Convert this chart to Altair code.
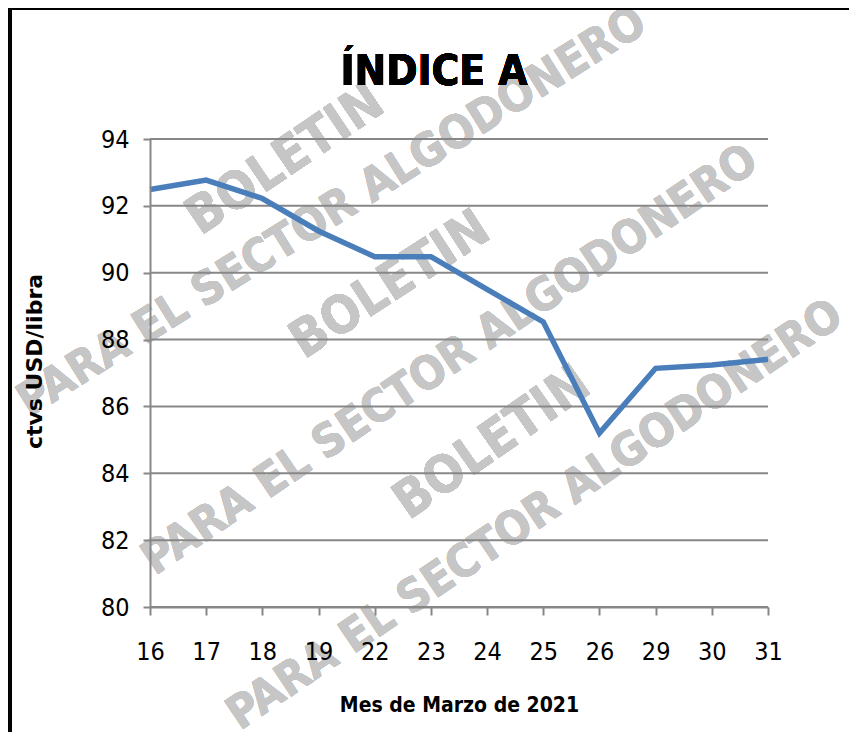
import altair as alt
import pandas as pd

# ---- data ----
dias = ["16", "17", "18", "19", "22", "23", "24", "25", "26", "29", "30", "31"]
indice_a = [92.49, 92.77, 92.22, 91.25, 90.48, 90.48, 89.5, 88.53, 85.2, 87.14, 87.24, 87.41]
y_ticks = [80, 82, 84, 86, 88, 90, 92, 94]

titulo = "ÍNDICE A"
titulo_x = "Mes de Marzo de 2021"
titulo_y = "ctvs USD/libra"
marca_1 = "BOLETIN"
marca_2 = "PARA EL SECTOR ALGODONERO"

df = pd.DataFrame({"dia": dias, "valor": indice_a})
grid_df = pd.DataFrame({"g": y_ticks})

W, H = 618, 468
NARROW = "DejaVu Sans Condensed"

xenc = alt.X("dia:O", sort=dias, scale=alt.Scale(type="point", padding=0),
             axis=alt.Axis(title=titulo_x, labelAngle=0, labelFont=NARROW, labelFontSize=25,
                           labelColor="black", labelPadding=24, tickSize=8, tickColor="#878787",
                           tickWidth=2, domainColor="#878787", domainWidth=2, grid=False,
                           titleFont=NARROW, titleFontSize=21, titleFontWeight="bold",
                           titleColor="black", titleBaseline="alphabetic",
                           titleX=309, titleY=104, zindex=1))
yscale = alt.Scale(domain=[80, 94], nice=False, zero=False)
yenc = alt.Y("valor:Q", scale=yscale,
             axis=alt.Axis(title=titulo_y, values=y_ticks, labelFont=NARROW, labelFontSize=25,
                           labelColor="black", labelPadding=14, tickSize=7, tickColor="#878787",
                           tickWidth=2, domainColor="#878787", domainWidth=2, grid=False,
                           titleFont="DejaVu Sans", titleFontSize=22, titleFontWeight="bold",
                           titleColor="black", titleAngle=270, titleBaseline="alphabetic",
                           titleX=-109, titleY=222, zindex=1))

WM_COLOR = "#c6c6c6"

def wm(text, x, y, size, ang):
    return alt.Chart(df).mark_text(
        text=text, font=NARROW, fontWeight="bold", fontSize=size, color=WM_COLOR,
        angle=ang, align="center", baseline="middle"
    ).encode(x=alt.value(x), y=alt.value(y))

watermarks = [
    wm(marca_1, 135, 21, 52, 326),
    wm(marca_2, 182, 73, 46, 328),
    wm(marca_1, 240, 146, 52, 327),
    wm(marca_2, 300, 221, 46, 326),
    wm(marca_1, 342, 304, 52, 325),
    wm(marca_2, 385, 376, 46, 326),
]

grid = alt.Chart(grid_df).mark_rule(color="#878787", strokeWidth=2).encode(
    y=alt.Y("g:Q", scale=yscale), x=alt.value(0), x2=alt.value(W))

line = alt.Chart(df).mark_line(color="#4a7ebb", strokeWidth=5.5, strokeJoin="miter").encode(
    x=xenc, y=yenc)

title_mark = alt.Chart(df).mark_text(
    text=titulo, font=NARROW, fontWeight="bold", fontSize=42, color="black",
    align="center", baseline="alphabetic"
).encode(x=alt.value(284), y=alt.value(-54))

frame_top = alt.Chart(df).mark_rule(color="black", strokeWidth=2).encode(
    x=alt.value(-140), x2=alt.value(W + 81), y=alt.value(-130))
frame_left_in = alt.Chart(df).mark_rule(color="black", strokeWidth=2).encode(
    x=alt.value(-139), y=alt.value(-130), y2=alt.value(H + 125))
frame_left_out = alt.Chart(df).mark_rule(color="black", strokeWidth=1.5).encode(
    x=alt.value(-141.5), y=alt.value(-131), y2=alt.value(H + 125))

chart = alt.layer(*watermarks, grid, line, title_mark, frame_top, frame_left_in,
                  frame_left_out).properties(
    width=W, height=H,
    autosize=alt.AutoSizeParams(type="none"),
    padding={"left": 142, "top": 131, "right": 81, "bottom": 125},
    background="white",
).configure_view(stroke=None)

chart.save("out.html", embed_options={"renderer": "svg", "actions": False})
